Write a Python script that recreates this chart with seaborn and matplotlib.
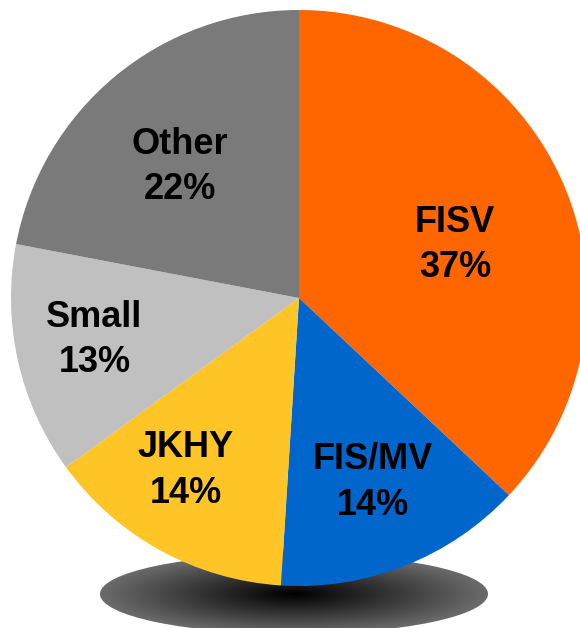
import numpy as np
import matplotlib
matplotlib.use("Agg")
import matplotlib.pyplot as plt
from matplotlib.patches import Ellipse
import seaborn as sns

# Dados do gráfico
labels = ["FISV", "FIS/MV", "JKHY", "Small", "Other"]
shares = [37, 14, 14, 13, 22]
colors = ["#FF6600", "#0066CC", "#FFC426", "#C0C0C0", "#7A7A7A"]

# Posição dos rótulos (ângulo em graus, distância relativa ao raio)
label_ang = [18.8, -68.1, -123.3, 191.6, 132.3]
label_dist = [0.572, 0.689, 0.715, 0.725, 0.615]

sns.set_style("white")
plt.rcParams["font.family"] = ["Liberation Sans", "DejaVu Sans"]

W, H = 580, 628
fig = plt.figure(figsize=(W / 100, H / 100), dpi=100)
ax = fig.add_axes([0, 0, 1, 1])

cx, cy, R = 299, H - 298, 288

# Sombra elíptica com gradiente radial
sx, sy, sa, sb = 294, H - 594, 194, 40
gx = np.linspace(-1, 1, 400)
gy = np.linspace(-1, 1, 120)
GX, GY = np.meshgrid(gx, gy)
rr = np.clip(np.sqrt(GX ** 2 + GY ** 2), 0, 1)
img = ax.imshow(0.42 * rr, cmap="gray", vmin=0, vmax=1, origin="lower",
                extent=[sx - sa, sx + sa, sy - sb, sy + sb],
                interpolation="bilinear", zorder=0)
ell = Ellipse((sx, sy), 2 * sa, 2 * sb, facecolor="none", edgecolor="none")
ax.add_patch(ell)
img.set_clip_path(ell)

# Pizza começando em 12h, sentido horário
ax.pie(shares, colors=colors, startangle=90, counterclock=False,
       center=(cx, cy), radius=R, frame=True,
       wedgeprops=dict(linewidth=0, zorder=2))

for lab, val, a, d in zip(labels, shares, label_ang, label_dist):
    t = np.deg2rad(a)
    ax.text(cx + d * R * np.cos(t), cy + d * R * np.sin(t), f"{lab}\n{val}%",
            ha="center", va="center", fontsize=26, fontweight="bold",
            linespacing=1.4, color="black", zorder=3)

ax.set_xlim(0, W)
ax.set_ylim(0, H)
ax.set_aspect("auto")
ax.axis("off")

fig.savefig("out.png", dpi=100)
